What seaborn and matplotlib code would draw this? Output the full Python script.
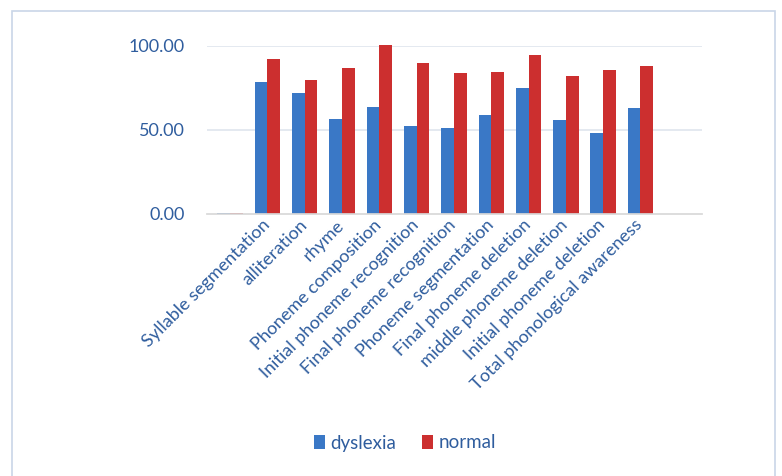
import pandas as pd
import matplotlib.pyplot as plt
import seaborn as sns
from matplotlib.patches import Rectangle
from matplotlib.transforms import ScaledTranslation

# categories (first group has no label in the original chart)
categories = ["", "Syllable segmentation", "alliteration", "rhyme",
              "Phoneme composition", "Initial phoneme recognition",
              "Final phoneme recognition", "Phoneme segmentation",
              "Final phoneme deletion", "middle phoneme deletion",
              "Initial phoneme deletion", "Total phonological awareness"]
dyslexia = [0.8, 78.7, 72.2, 56.4, 63.5, 52.4, 51.0, 59.0, 74.8, 56.0, 48.0, 62.9]
normal = [0.8, 92.3, 79.8, 87.1, 100.5, 90.1, 83.7, 84.7, 94.6, 82.0, 85.7, 88.0]
groups = ["dyslexia", "normal"]

df = pd.DataFrame({
    "cat": list(range(len(categories))) * 2,
    "value": dyslexia + normal,
    "group": ["dyslexia"] * len(categories) + ["normal"] * len(categories),
})

sns.set_theme(style="white")
plt.rcParams['font.family'] = ['Lato', 'DejaVu Sans']

blue = "#3a78c6"
red = "#cc2f2f"
txt = "#2f5d9e"

fig = plt.figure(figsize=(7.82, 4.76), dpi=100)
ax = fig.add_axes([207 / 782, 1 - 214 / 476, (702 - 207) / 782, 168 / 476])

sns.barplot(data=df, x="cat", y="value", hue="group", hue_order=groups,
            palette=[blue, red], width=0.68, ax=ax, legend=True,
            saturation=1, linewidth=0)
for p in ax.patches:
    p.set_clip_on(False)

ax.set_xlim(-0.62, 12.65)
ax.set_ylim(0, 100)
ax.set_yticks([0, 50, 100])
ax.set_yticklabels(["0.00", "50.00", "100.00"], fontsize=13, color=txt)
ax.tick_params(axis="y", length=0, pad=16)
ax.tick_params(axis="x", length=0, pad=2)
ax.set_xticks(range(len(categories)))
ax.set_xticklabels(categories, rotation=45, ha="right", va="top",
                   rotation_mode="anchor", fontsize=13, color=txt)
shift = ScaledTranslation(-6 / 100, 0, fig.dpi_scale_trans)
for lab in ax.get_xticklabels():
    lab.set_transform(lab.get_transform() + shift)
ax.set_xlabel("")
ax.set_ylabel("")

for y in [50, 100]:
    ax.axhline(y, color="#dfe5ee", lw=1.2, zorder=0)
for s in ["left", "right", "top"]:
    ax.spines[s].set_visible(False)
ax.spines["bottom"].set_color("#d8d8d8")
ax.set_axisbelow(True)

handles, labels = ax.get_legend_handles_labels()
ax.legend_.remove()
fig.legend(handles, labels, loc="center", bbox_to_anchor=(405 / 782, 1 - 443 / 476),
           ncol=2, frameon=False, fontsize=13.5, handlelength=0.55, handleheight=0.75,
           handletextpad=0.3, columnspacing=1.4, labelcolor=txt)

# chart border
fig.patches.append(Rectangle((12 / 782, -0.01), (775 - 12) / 782, (476 - 11) / 476 + 0.01,
                             transform=fig.transFigure, fill=False,
                             edgecolor="#c9d6e8", lw=1.2))

fig.savefig("out.png", dpi=100)
